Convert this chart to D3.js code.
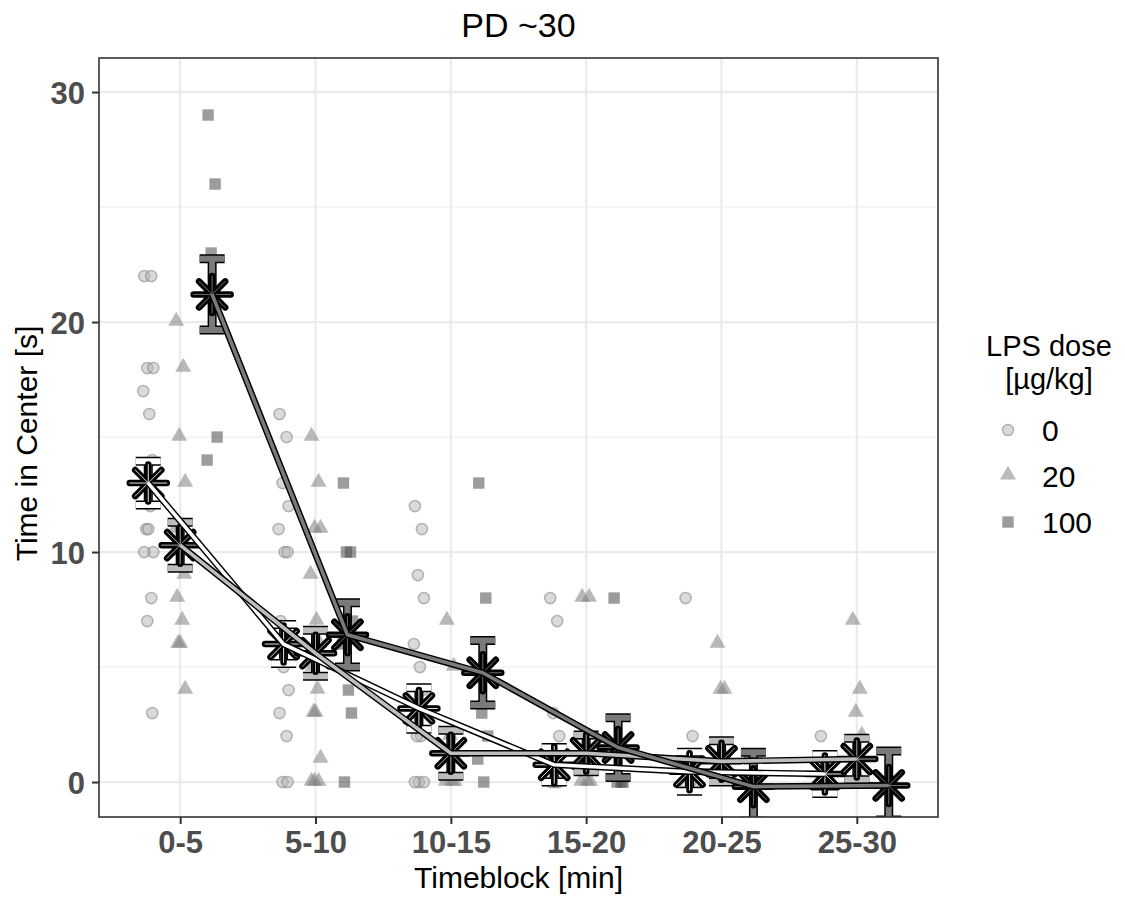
<!DOCTYPE html>
<html><head><meta charset="utf-8">
<script src="https://cdn.jsdelivr.net/npm/d3@7"></script>
<style>body{margin:0;background:#fff}svg{display:block}text{font-family:"Liberation Sans",Arial,sans-serif}</style>
</head><body>
<svg id="chart" width="1125" height="898"></svg>
<script>
const timeblocks = ["0-5","5-10","10-15","15-20","20-25","25-30"];
const doses = ["0","20","100"];
const yTicks = [0,10,20,30];
const yMinor = [5,15,25];

// individual observations per time block
const raw0 = [
  [22,22,18,18,17,16,14,13,12,11,11,10,10,8,7,3],
  [16,15,13,12,11,10,10,7,6,6,5,4,3,2,0,0],
  [12,11,9,8,6,5,4,3,2,2,0,0,0],
  [8,7,3,2,1,0,0,0],
  [8,2,1,0,0,0],
  [2,1,0,0,0]
];
const raw20 = [
  [20,18,15,13,11,10,9,8,7,6,6,4],
  [15,13,11,11,9,7,6,5,4,3,3,1,0,0,0],
  [7,5,2,1,0,0,0],
  [8,8,2,1,0,0,0],
  [6,4,4,1,0,0],
  [7,4,3,2,1,0,0]
];
const raw100 = [
  [29,26,23,15,14],
  [13,10,10,7,6,4,3,0],
  [13,8,3,2,1,0],
  [8,0,0,0],
  [1,0,0],
  [0,0]
];
// group estimates (mean and standard error) per time block
const mean0 = [13.0, 6.0, 3.2, 0.75, 0.45, 0.35];
const se0   = [0.95, 0.85, 0.9, 0.75, 0.85, 0.85];
const mean20 = [10.3, 5.6, 1.25, 1.25, 0.9, 1.0];
const se20   = [1.0, 1.0, 1.0, 0.8, 0.9, 0.9];
const mean100 = [21.2, 6.4, 4.75, 1.5, -0.2, -0.15];
const se100   = [1.55, 1.4, 1.4, 1.3, 1.5, 1.5];

const jitterPattern = [-4,3,-1,5,-5,1,4,-3,2,-2,0,5,-4,3,-1,4];

const svg = d3.select("#chart");
const L = 99, R = 938, T = 58, B = 817;
const x = d3.scalePoint().domain(timeblocks).range([L, R]).padding(0.6);
const y = d3.scaleLinear().domain([-1.52, 31.48]).range([B, T]);
const dodge = d3.scalePoint().domain(doses).range([-1, 1]);
const dw = x.step() * 0.236;
const xd = (tb, dose) => x(tb) + dodge(dose) * dw;

const groups = [
  {dose:"0", raw:raw0, mean:mean0, se:se0, shape:"circle", pFill:"#b5b5b5", pOp:0.5, pStroke:"#777", col:"#ffffff"},
  {dose:"20", raw:raw20, mean:mean20, se:se20, shape:"triangle", pFill:"#808080", pOp:0.55, pStroke:"none", col:"#bdbdbd"},
  {dose:"100", raw:raw100, mean:mean100, se:se100, shape:"square", pFill:"#4a4a4a", pOp:0.55, pStroke:"none", col:"#7a7a7a"}
];

// panel background + grid
svg.append("rect").attr("x",L).attr("y",T).attr("width",R-L).attr("height",B-T).attr("fill","#fff");
const grid = svg.append("g");
grid.selectAll("line.minor").data(yMinor).join("line")
  .attr("x1",L).attr("x2",R).attr("y1",d=>y(d)).attr("y2",d=>y(d))
  .attr("stroke","#ebebeb").attr("stroke-width",1.1);
grid.selectAll("line.majy").data(yTicks).join("line")
  .attr("x1",L).attr("x2",R).attr("y1",d=>y(d)).attr("y2",d=>y(d))
  .attr("stroke","#ebebeb").attr("stroke-width",2.2);
grid.selectAll("line.majx").data(timeblocks).join("line")
  .attr("y1",T).attr("y2",B).attr("x1",d=>x(d)).attr("x2",d=>x(d))
  .attr("stroke","#ebebeb").attr("stroke-width",2.2);

svg.append("clipPath").attr("id","panel").append("rect")
  .attr("x",L).attr("y",T).attr("width",R-L).attr("height",B-T);
const plot = svg.append("g").attr("clip-path","url(#panel)");

const sym = {
  circle: d3.symbol().type(d3.symbolCircle).size(Math.PI*5.6*5.6),
  triangle: d3.symbol().type(d3.symbolTriangle).size(110),
  square: d3.symbol().type(d3.symbolSquare).size(130)
};

// raw points
groups.forEach(g => {
  const pts = [];
  g.raw.forEach((vals, i) => vals.forEach((v, j) => pts.push({tb:timeblocks[i], v, j})));
  plot.append("g").selectAll("path").data(pts).join("path")
    .attr("d", sym[g.shape]())
    .attr("transform", d => `translate(${xd(d.tb,g.dose) + jitterPattern[d.j % jitterPattern.length]},${y(d.v) + (g.shape==="triangle"?-1:0)})`)
    .attr("fill", g.pFill).attr("fill-opacity", g.pOp)
    .attr("stroke", g.pStroke).attr("stroke-opacity", 0.5).attr("stroke-width", 1.5);
});

// error bars
const cap = 12.5;
groups.forEach(g => {
  const eb = timeblocks.map((tb,i) => ({cx:xd(tb,g.dose), lo:y(g.mean[i]-g.se[i]), hi:y(g.mean[i]+g.se[i])}));
  const pathFn = d => `M${d.cx-cap},${d.hi}H${d.cx+cap}M${d.cx},${d.hi}V${d.lo}M${d.cx-cap},${d.lo}H${d.cx+cap}`;
  const eg = plot.append("g");
  eg.selectAll("path.o").data(eb).join("path").attr("d",pathFn)
    .attr("fill","none").attr("stroke","#000").attr("stroke-width",9);
  eg.selectAll("path.i").data(eb).join("path").attr("d",pathFn)
    .attr("fill","none").attr("stroke",g.col).attr("stroke-width",6);
});

// asterisks at means
const ar = 18.5, ad = ar*Math.SQRT1_2;
const star = `M${-ar},0H${ar}M0,${-ar}V${ar}M${-ad},${-ad}L${ad},${ad}M${-ad},${ad}L${ad},${-ad}`;
groups.forEach(g => {
  const ms = timeblocks.map((tb,i) => ({cx:xd(tb,g.dose), cy:y(g.mean[i])}));
  const sg = plot.append("g");
  sg.selectAll("path.o").data(ms).join("path").attr("d",star)
    .attr("transform",d=>`translate(${d.cx},${d.cy})`)
    .attr("fill","none").attr("stroke","#000").attr("stroke-width",6.5).attr("stroke-linecap","round");
  sg.selectAll("path.i").data(ms).join("path").attr("d",star)
    .attr("transform",d=>`translate(${d.cx},${d.cy})`)
    .attr("fill","none").attr("stroke",g.col).attr("stroke-width",0.9).attr("stroke-linecap","round");
});

// mean lines
const line = d3.line().x(d=>d.cx).y(d=>d.cy);
groups.forEach(g => {
  const ms = timeblocks.map((tb,i) => ({cx:xd(tb,g.dose), cy:y(g.mean[i])}));
  plot.append("path").attr("d",line(ms)).attr("fill","none").attr("stroke","#000")
    .attr("stroke-width",6.5).attr("stroke-linejoin","round");
  plot.append("path").attr("d",line(ms)).attr("fill","none").attr("stroke",g.col)
    .attr("stroke-width",3.6).attr("stroke-linejoin","round");
});

// panel border
svg.append("rect").attr("x",L).attr("y",T).attr("width",R-L).attr("height",B-T)
  .attr("fill","none").attr("stroke","#333").attr("stroke-width",1.6);

// axes
const xAxis = d3.axisBottom(x).tickSize(7).tickPadding(7);
const gx = svg.append("g").attr("transform",`translate(0,${B})`).call(xAxis);
const yAxis = d3.axisLeft(y).tickValues(yTicks).tickSize(7).tickPadding(7);
const gy = svg.append("g").attr("transform",`translate(${L},0)`).call(yAxis);
[gx,gy].forEach(g => {
  g.select(".domain").remove();
  g.selectAll(".tick line").attr("stroke","#333").attr("stroke-width",2);
  g.selectAll(".tick text").attr("fill","#4d4d4d").attr("font-size",31).attr("font-weight","bold")
    .style("font-family",'"Liberation Sans",Arial,sans-serif');
});
gx.selectAll(".tick text").attr("dy","0.71em");
gy.selectAll(".tick text").attr("dy","0.36em");

// titles
svg.append("text").attr("x",(L+R)/2).attr("y",37).attr("text-anchor","middle")
  .attr("font-size",34).attr("fill","#000").text("PD ~30");
svg.append("text").attr("x",(L+R)/2).attr("y",888).attr("text-anchor","middle")
  .attr("font-size",30).attr("fill","#000").text("Timeblock [min]");
svg.append("text").attr("transform",`translate(37,${(T+B)/2 + 6}) rotate(-90)`).attr("text-anchor","middle")
  .attr("font-size",30).attr("fill","#000").text("Time in Center [s]");

// legend
const lg = svg.append("g");
lg.append("text").attr("x",1049).attr("y",356).attr("text-anchor","middle").attr("font-size",29).text("LPS dose");
lg.append("text").attr("x",1049).attr("y",389).attr("text-anchor","middle").attr("font-size",29).text("[µg/kg]");
const keyY = d3.scalePoint().domain(doses).range([430, 522]);
groups.forEach(g => {
  lg.append("path").attr("d", sym[g.shape]())
    .attr("transform",`translate(1008,${keyY(g.dose) + (g.shape==="triangle"?-1:0)})`)
    .attr("fill", g.pFill).attr("fill-opacity", g.pOp)
    .attr("stroke", g.pStroke).attr("stroke-opacity", 0.5).attr("stroke-width",1.5);
  lg.append("text").attr("x",1042).attr("y",keyY(g.dose)+11).attr("font-size",30).text(g.dose);
});
</script>
</body></html>
